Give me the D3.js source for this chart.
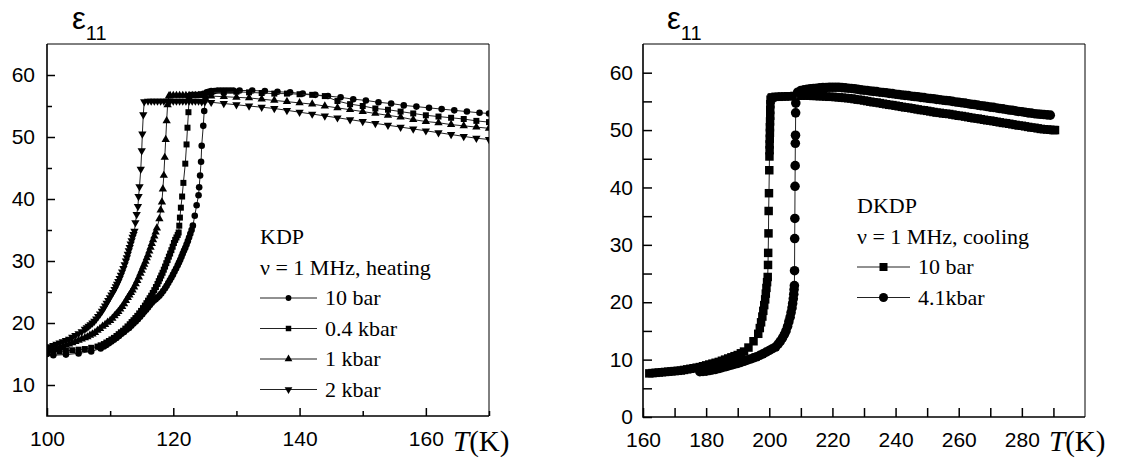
<!DOCTYPE html>
<html lang="en">
<head>
<meta charset="UTF-8">
<title>KDP / DKDP permittivity</title>
<script src="https://cdn.jsdelivr.net/npm/d3@7"></script>
<style>
  body { margin: 0; background: #fff; }
  svg { display: block; }
  .tick text { font-family: "Liberation Sans", Arial, sans-serif; font-size: 21px; fill: #000; }
  .tick line { stroke: #000; stroke-width: 1.5; }
</style>
</head>
<body>
<svg width="1126" height="460"></svg>
<script>
// ---- KDP, heating (left panel): [T, eps11]
const kdp10bar = [
  [100,15.0],[101,14.8],[103,14.9],[105,15.1],[107,15.4],[108.5,15.9],[109,16.2],[109.4,16.45],[109.8,16.75],
  [110.2,17.0],[110.6,17.3],[111,17.6],[111.4,17.9],[111.8,18.25],[112.2,18.55],[112.6,18.9],[113,19.2],
  [113.35,19.55],[113.7,19.9],[114.05,20.25],[114.4,20.6],[114.75,21.0],[115.1,21.4],[115.4,21.8],[115.7,22.15],
  [116.0,22.5],[116.3,22.9],[116.6,23.25],[116.9,23.6],[117.2,23.85],[117.5,24.1],[117.8,24.4],[118.1,24.75],
  [118.4,25.15],[118.7,25.6],[118.95,26.0],[119.2,26.45],[119.45,26.9],[119.7,27.35],[119.95,27.8],[120.2,28.3],
  [120.45,28.8],[120.7,29.3],[120.9,29.75],[121.1,30.2],[121.3,30.7],[121.5,31.2],[121.7,31.7],[121.9,32.15],
  [122.1,32.65],[122.3,33.2],[122.5,33.8],[122.7,34.4],[122.9,35.0],[123.1,35.7],[123.4,37.3],[123.7,39.0],
  [124.0,40.6],[124.1,41.9],[124.25,43.8],[124.4,46.0],[124.5,48.6],[124.75,51.8],[124.9,54.2],[125.1,56.3],
  [125.3,57.2],[125.6,57.3],[126,57.4],[126.5,57.4],[127,57.5],[127.5,57.5],[128,57.5],[128.5,57.5],[129,57.5],
  [129.5,57.5],[130.5,57.5],[132.5,57.5],[134.5,57.4],[136.5,57.3],[138.5,57.2],[140.5,57.0],[142.5,56.8],
  [144.5,56.6],[146.5,56.4],[148.5,56.1],[150.5,55.9],[152.5,55.6],[154.5,55.4],[156.5,55.1],[158.5,54.9],
  [160.5,54.7],[162.5,54.5],[164.5,54.3],[166.5,54.1],[168.5,53.9],[170,53.8]
];
const kdp04kbar = [
  [100,15.3],[101,15.3],[102,15.4],[103,15.5],[104,15.6],[105,15.7],[106,15.8],[107,16.0],[108,16.2],[108.5,16.4],
  [109,16.6],[109.4,16.85],[109.8,17.1],[110.2,17.35],[110.6,17.6],[111,17.9],[111.35,18.2],[111.7,18.5],
  [112.05,18.75],[112.4,19.1],[112.75,19.45],[113.1,19.8],[113.4,20.15],[113.7,20.45],[114.0,20.8],[114.3,21.15],
  [114.6,21.55],[114.9,21.95],[115.2,22.4],[115.5,22.8],[115.75,23.2],[116.0,23.6],[116.25,24.0],[116.5,24.4],
  [116.75,24.85],[117.0,25.3],[117.25,25.8],[117.5,26.3],[117.7,26.75],[117.9,27.2],[118.1,27.65],[118.3,28.1],
  [118.5,28.6],[118.7,29.1],[118.9,29.65],[119.1,30.15],[119.3,30.7],[119.5,31.2],[119.7,31.75],[119.9,32.3],
  [120.1,32.9],[120.3,33.4],[120.5,33.8],[120.7,34.2],[120.85,34.6],[120.95,35.7],[121.05,37.0],[121.2,38.6],
  [121.4,40.4],[121.6,42.6],[121.9,45.7],[122.1,48.8],[122.25,51.5],[122.4,54.0],[122.5,56.6],[123,56.8],
  [123.5,56.8],[124,56.8],[124.5,56.9],[125,57.0],[125.5,57.1],[126,57.2],[128,57.2],[130,57.3],[132,57.2],
  [134,57.1],[136,57.0],[138,57.0],[140,56.9],[142,56.8],[144,56.6],[146,55.8],[148,55.3],[150,55.0],[152,54.6],
  [154,54.4],[156,54.1],[158,53.8],[160,53.5],[162,53.3],[164,53.1],[166,52.9],[168,52.6],[170,52.4]
];
const kdp1kbar = [
  [100,15.5],[100.5,15.6],[101,15.7],[101.5,15.8],[102,16.0],[102.5,16.2],[103,16.4],[103.5,16.6],[104,16.8],
  [104.5,17.0],[105,17.2],[105.5,17.4],[106,17.6],[106.4,17.75],[106.8,18.0],[107.2,18.2],[107.6,18.45],[108,18.8],
  [108.4,19.1],[108.8,19.45],[109.2,19.75],[109.6,20.1],[110,20.4],[110.35,20.75],[110.7,21.15],[111.0,21.5],
  [111.3,21.85],[111.6,22.25],[111.9,22.65],[112.2,23.1],[112.5,23.6],[112.8,24.1],[113.05,24.5],[113.3,24.9],
  [113.55,25.3],[113.8,25.8],[114.05,26.3],[114.3,26.85],[114.55,27.4],[114.8,28.0],[115.0,28.5],[115.2,29.0],
  [115.4,29.45],[115.6,29.95],[115.8,30.5],[116.0,31.0],[116.2,31.6],[116.4,32.2],[116.6,32.8],[116.8,33.4],
  [117.0,34.0],[117.2,34.65],[117.4,35.3],[117.8,36.8],[118.0,38.2],[118.2,39.5],[118.35,41.6],[118.5,43.8],
  [118.65,46.7],[118.8,49.6],[118.95,52.6],[119.1,55.2],[119.3,56.6],[119.5,56.7],[120,56.7],[120.5,56.7],
  [121,56.7],[121.5,56.7],[122,56.7],[122.5,56.7],[123,56.7],[123.5,56.7],[124,56.7],[124.5,56.7],[125,56.7],
  [126,56.6],[128,56.5],[130,56.4],[132,56.3],[134,56.1],[136,55.9],[138,55.7],[140,55.5],[142,55.3],[144,55.0],
  [146,54.7],[148,54.4],[150,54.1],[152,53.8],[154,53.5],[156,53.2],[158,52.8],[160,52.5],[162,52.3],[164,52.0],
  [166,51.8],[168,51.6],[170,51.4]
];
const kdp2kbar = [
  [100,16.0],[100.5,16.2],[101,16.4],[101.5,16.6],[102,16.8],[102.5,17.0],[103,17.2],[103.5,17.4],[104,17.7],
  [104.5,18.0],[105,18.3],[105.5,18.6],[106,19.0],[106.3,19.25],[106.6,19.5],[106.9,19.75],[107.2,20.0],
  [107.5,20.3],[107.8,20.65],[108.1,21.05],[108.4,21.45],[108.7,21.9],[108.95,22.3],[109.2,22.75],[109.45,23.2],
  [109.7,23.65],[109.95,24.1],[110.2,24.55],[110.45,24.95],[110.7,25.4],[110.9,25.85],[111.1,26.25],[111.3,26.7],
  [111.5,27.2],[111.7,27.7],[111.9,28.25],[112.1,28.8],[112.3,29.4],[112.5,30.0],[112.65,30.55],[112.8,31.1],
  [112.95,31.65],[113.1,32.2],[113.25,32.75],[113.4,33.3],[113.55,33.85],[113.7,34.3],[113.85,34.8],[114.0,36.2],
  [114.2,37.5],[114.4,38.8],[114.5,40.4],[114.65,42.0],[114.85,44.8],[115.0,47.8],[115.1,50.5],[115.25,53.6],
  [115.4,55.7],[116,55.8],[116.5,55.8],[117,55.8],[117.5,55.8],[118,55.8],[118.5,55.8],[119,55.8],[119.5,55.8],
  [120,55.8],[120.5,55.8],[121,55.8],[121.5,55.8],[122,55.8],[122.5,55.8],[123,55.8],[123.5,55.8],[124,55.8],
  [124.5,55.7],[125,55.7],[126,55.6],[128,55.4],[130,55.2],[132,55.0],[134,54.8],[136,54.6],[138,54.3],[140,54.0],
  [142,53.7],[144,53.4],[146,53.1],[148,52.8],[150,52.5],[152,52.2],[154,51.9],[156,51.6],[158,51.3],[160,51.0],
  [162,50.7],[164,50.4],[166,50.1],[168,49.8],[170,49.6]
];

// ---- DKDP, cooling (right panel)
const dkdp10bar = [
  [162,7.6],[163,7.65],[164,7.7],[165,7.75],[166,7.8],[167,7.85],[168,7.9],[169,7.95],[170,8.0],[171,8.05],
  [172,8.1],[173,8.2],[174,8.3],[175,8.4],[176,8.5],[177,8.6],[178,8.7],[179,8.85],[180,9.0],[181,9.15],[182,9.3],
  [183,9.45],[184,9.6],[185,9.8],[186,10.0],[187,10.2],[188,10.4],[189,10.6],[190,10.8],[191,11.1],[192,11.4],
  [193.4,12.1],[195,13.2],[196.5,14.5],[197,15.5],[197.4,16.5],[197.8,17.5],[198.1,18.5],[198.4,19.5],[198.7,20.5],
  [198.9,21.5],[199.1,22.5],[199.3,23.5],[199.5,24.4],[199.6,26.5],[199.65,28.6],[199.75,32.0],[199.8,35.9],
  [199.9,39.0],[200.0,43.0],[200.05,45.4],[200.1,46.5],[200.1,47.5],[200.15,48.5],[200.2,49.5],[200.2,50.5],
  [200.25,51.5],[200.3,52.5],[200.3,53.5],[200.35,54.5],[200.4,55.3],[200.7,55.6],[201,55.7],[202,55.8],[203,55.8],
  [204,55.85],[205,55.85],[206,55.9],[207,55.9],[208,55.95],[209,56.0],[210,56.0],[211,56.0],[212,56.0],[213,56.0],
  [214,55.95],[215,55.95],[216,55.9],[217,55.9],[218,55.85],[219,55.8],[220,55.8],[221,55.75],[222,55.7],
  [223,55.65],[224,55.6],[225,55.55],[226,55.5],[227,55.4],[228,55.3],[229,55.25],[230,55.15],[231,55.05],
  [232,54.95],[233,54.85],[234,54.8],[235,54.7],[236,54.6],[237,54.5],[238,54.4],[239,54.35],[240,54.25],
  [241,54.15],[242,54.05],[243,53.95],[244,53.9],[245,53.8],[246,53.7],[247,53.6],[248,53.5],[249,53.45],
  [250,53.35],[251,53.25],[252,53.15],[253,53.05],[254,53.0],[255,52.9],[256,52.85],[257,52.8],[258,52.7],
  [259,52.6],[260,52.5],[261,52.45],[262,52.35],[263,52.25],[264,52.15],[265,52.05],[266,52.0],[267,51.9],
  [268,51.8],[269,51.7],[270,51.65],[271,51.55],[272,51.45],[273,51.35],[274,51.25],[275,51.2],[276,51.1],
  [277,51.0],[278,50.9],[279,50.8],[280,50.75],[281,50.65],[282,50.55],[283,50.45],[284,50.4],[285,50.3],
  [286,50.2],[287,50.15],[288,50.1],[289,50.05],[290,50.0],[290.5,50.0]
];
const dkdp41kbar = [
  [178,7.9],[179,7.95],[180,8.0],[181,8.1],[182,8.2],[183,8.3],[184,8.45],[185,8.6],[186,8.75],[187,8.9],
  [188,9.05],[189,9.2],[190,9.35],[191,9.5],[192,9.7],[193,9.9],[194,10.1],[195,10.3],[196,10.5],[197,10.75],
  [198,11.0],[199,11.3],[200,11.6],[201,11.9],[202,12.2],[202.8,12.7],[203.5,13.2],[204.2,13.8],[204.8,14.4],
  [205.3,15.0],[205.8,15.8],[206.2,16.6],[206.6,17.4],[206.9,18.2],[207.2,19.0],[207.4,19.8],[207.6,20.6],
  [207.75,21.4],[207.85,22.2],[207.95,22.9],[208.0,25.5],[208.05,31.1],[208.1,34.6],[208.15,40.2],[208.2,43.8],
  [208.25,47.7],[208.3,49.1],[208.35,53.0],[208.4,54.7],[209,56.6],[210,56.9],[211,57.0],[212,57.1],[213,57.2],
  [214,57.25],[215,57.3],[216,57.35],[217,57.4],[218,57.4],[219,57.45],[220,57.45],[221,57.45],[222,57.45],
  [223,57.4],[224,57.35],[225,57.3],[226,57.25],[227,57.2],[228,57.1],[229,57.0],[230,56.95],[231,56.9],
  [232,56.8],[233,56.75],[234,56.7],[235,56.6],[236,56.55],[237,56.5],[238,56.4],[239,56.35],[240,56.25],
  [241,56.2],[242,56.1],[243,56.05],[244,56.0],[245,55.9],[246,55.85],[247,55.8],[248,55.7],[249,55.65],
  [250,55.55],[251,55.5],[252,55.45],[253,55.35],[254,55.3],[255,55.2],[256,55.15],[257,55.1],[258,55.0],
  [259,54.9],[260,54.85],[261,54.75],[262,54.7],[263,54.6],[264,54.5],[265,54.45],[266,54.35],[267,54.25],
  [268,54.2],[269,54.1],[270,54.0],[271,53.95],[272,53.85],[273,53.75],[274,53.7],[275,53.6],[276,53.5],
  [277,53.45],[278,53.35],[279,53.25],[280,53.2],[281,53.1],[282,53.0],[283,52.95],[284,52.85],[285,52.8],
  [286,52.75],[287,52.7],[288,52.65],[289,52.6]
];

// ---- ticks
const kdpXTicks = [100, 120, 140, 160];
const kdpXMinor = [110, 130, 150, 170];
const kdpYTicks = [10, 20, 30, 40, 50, 60];
const kdpYMinor = [15, 25, 35, 45, 55];
const dkdpXTicks = [160, 180, 200, 220, 240, 260, 280];
const dkdpXMinor = [170, 190, 210, 230, 250, 270, 290];
const dkdpYTicks = [0, 10, 20, 30, 40, 50, 60];
const dkdpYMinor = [5, 15, 25, 35, 45, 55];

const serif = "Liberation Serif, Times New Roman, serif";
const svg = d3.select("svg");
const downTriangle = {draw: (ctx, size) => {
  const h = Math.sqrt(size / (Math.sqrt(3) / 4)), r = h / Math.sqrt(3);
  ctx.moveTo(0, r); ctx.lineTo(h / 2, -r / 2); ctx.lineTo(-h / 2, -r / 2); ctx.closePath();
}};

function drawPanel(p) {
  const x = d3.scaleLinear().domain(p.xDomain).range([p.left, p.right]);
  const y = d3.scaleLinear().domain(p.yDomain).range([p.bottom, p.top]);
  const g = svg.append("g");

  g.append("clipPath").attr("id", p.id + "-clip")
    .append("rect").attr("x", p.left).attr("y", p.top)
    .attr("width", p.right - p.left).attr("height", p.bottom - p.top);

  // ticks (pointing inward)
  const ax = (axis, tr) => g.append("g").attr("transform", tr).call(axis)
    .call(a => a.select(".domain").remove());
  ax(d3.axisBottom(x).tickValues(p.xTicks).tickSize(-p.major).tickPadding(15), `translate(0,${p.bottom})`);
  ax(d3.axisBottom(x).tickValues(p.xMinor).tickSize(-p.minor).tickFormat(""), `translate(0,${p.bottom})`);
  ax(d3.axisLeft(y).tickValues(p.yTicks).tickSize(-p.major).tickPadding(p.yPad), `translate(${p.left},0)`);
  ax(d3.axisLeft(y).tickValues(p.yMinor).tickSize(-p.minor).tickFormat(""), `translate(${p.left},0)`);

  // frame
  g.append("path").attr("fill", "none").attr("stroke", "#000").attr("stroke-width", 1)
    .attr("d", `M${p.left},${p.top}H${p.right}V${p.bottom}`);
  g.append("path").attr("fill", "none").attr("stroke", "#000").attr("stroke-width", 1.6)
    .attr("d", `M${p.left},${p.top}V${p.bottom}H${p.right}`);

  const plot = g.append("g").attr("clip-path", `url(#${p.id}-clip)`);
  const line = d3.line().x(d => x(d[0])).y(d => y(d[1]));
  p.series.forEach(s => {
    plot.append("path").datum(s.data).attr("d", line)
      .attr("fill", "none").attr("stroke", "#222").attr("stroke-width", 1);
    plot.append("g").selectAll("path").data(s.data).join("path")
      .attr("transform", d => `translate(${x(d[0])},${y(d[1])})`)
      .attr("d", d3.symbol(s.shape, s.size)).attr("fill", "#000");
  });

  // title and axis name
  const t = svg.append("text").attr("x", p.titleX).attr("y", 29)
    .attr("font-family", "Liberation Sans, Arial, sans-serif").attr("font-size", 31).text("ε");
  t.append("tspan").attr("font-size", 20).attr("dy", 11).text("11");
  const xl = svg.append("text").attr("x", p.tX).attr("y", 451)
    .attr("font-family", serif).attr("font-size", 29);
  xl.append("tspan").attr("font-style", "italic").text("T");
  xl.append("tspan").text("(K)");

  // legend
  const lg = svg.append("g").attr("font-family", serif).attr("font-size", 22);
  lg.append("text").attr("x", p.lgX).attr("y", p.lgY).text(p.lgTitle);
  lg.append("text").attr("x", p.lgX).attr("y", p.lgY + p.lgStep).text(p.lgSub);
  p.series.forEach((s, i) => {
    const yy = p.lgY + p.lgStep * (i + 2);
    lg.append("line").attr("x1", p.lgX).attr("x2", p.lgX + p.lgLen)
      .attr("y1", yy - 7).attr("y2", yy - 7).attr("stroke", "#222").attr("stroke-width", 1);
    lg.append("path").attr("transform", `translate(${p.lgX + p.lgLen / 2},${yy - 7})`)
      .attr("d", d3.symbol(s.shape, s.lgSize));
    lg.append("text").attr("x", p.lgX + p.lgLen + 8).attr("y", yy).text(s.name);
  });
}

drawPanel({
  id: "kdp", left: 47, right: 489, top: 44, bottom: 416,
  xDomain: [100, 170], yDomain: [5, 65],
  xTicks: kdpXTicks, xMinor: kdpXMinor, yTicks: kdpYTicks, yMinor: kdpYMinor,
  major: 8, minor: 5, yPad: 12,
  titleX: 72, tX: 453,
  lgX: 260, lgY: 244, lgStep: 30.5, lgLen: 57, lgTitle: "KDP", lgSub: "ν = 1 MHz, heating",
  series: [
    {name: "10 bar", data: kdp10bar, shape: d3.symbolCircle, size: 34, lgSize: 26},
    {name: "0.4 kbar", data: kdp04kbar, shape: d3.symbolSquare, size: 36, lgSize: 30},
    {name: "1 kbar", data: kdp1kbar, shape: d3.symbolTriangle, size: 30, lgSize: 26},
    {name: "2 kbar", data: kdp2kbar, shape: downTriangle, size: 30, lgSize: 26}
  ]
});

drawPanel({
  id: "dkdp", left: 643, right: 1085, top: 44, bottom: 417,
  xDomain: [160, 300], yDomain: [0, 65],
  xTicks: dkdpXTicks, xMinor: dkdpXMinor, yTicks: dkdpYTicks, yMinor: dkdpYMinor,
  major: 9, minor: 9, yPad: 10,
  titleX: 667, tX: 1049,
  lgX: 857, lgY: 213, lgStep: 30.5, lgLen: 53, lgTitle: "DKDP", lgSub: "ν = 1 MHz, cooling",
  series: [
    {name: "10 bar", data: dkdp10bar, shape: d3.symbolSquare, size: 72, lgSize: 64},
    {name: "4.1kbar", data: dkdp41kbar, shape: d3.symbolCircle, size: 72, lgSize: 64}
  ]
});
</script>
</body>
</html>
